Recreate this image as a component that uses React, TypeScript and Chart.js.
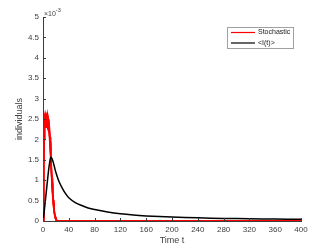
import React, { useEffect, useRef } from "react";
import { Chart, registerables } from "chart.js";

Chart.register(...registerables);

// values in units of 1e-3 individuals
const SCALE = 1e-3;
const stochTimes = [0, 1, 2, 3, 4, 5, 6, 7, 8, 9, 10, 11, 12, 13, 14, 15, 16, 17, 18, 19, 20, 21, 22, 24, 400];
const stochRun1 = [0, 1.4, 2.3, 2.5, 2.6, 2.45, 2.58, 2.4, 2.5, 2.35, 2.2, 1.95, 1.6, 1.25, 0.95, 0.68, 0.46, 0.3, 0.18, 0.1, 0.05, 0.02, 0.01, 0, 0];
const stochRun2 = [0, 1.8, 2.55, 2.62, 2.5, 2.64, 2.45, 2.6, 2.48, 2.42, 2.3, 2.05, 1.7, 1.35, 1.05, 0.76, 0.52, 0.34, 0.2, 0.11, 0.06, 0.03, 0.01, 0, 0];
const stochRun3 = [0, 1.1, 2.0, 2.35, 2.45, 2.3, 2.42, 2.3, 2.38, 2.2, 2.05, 1.8, 1.5, 1.15, 0.85, 0.6, 0.4, 0.25, 0.14, 0.07, 0.03, 0.01, 0, 0, 0];
const stochRun4 = [0, 1.6, 2.4, 2.55, 2.48, 2.58, 2.5, 2.36, 2.45, 2.32, 2.15, 1.9, 1.58, 1.22, 0.92, 0.65, 0.44, 0.28, 0.16, 0.08, 0.04, 0.02, 0, 0, 0];
const meanTimes = [0, 2, 4, 6, 8, 10, 12, 14, 16, 18, 20, 25, 30, 35, 40, 50, 60, 70, 80, 100, 120, 140, 160, 200, 240, 280, 320, 360, 400];
const meanValues = [0, 0.25, 0.55, 0.85, 1.15, 1.4, 1.56, 1.53, 1.43, 1.31, 1.19, 0.96, 0.8, 0.67, 0.57, 0.45, 0.38, 0.32, 0.28, 0.22, 0.175, 0.145, 0.125, 0.095, 0.077, 0.064, 0.054, 0.047, 0.041];
const xTicks = [0, 40, 80, 120, 160, 200, 240, 280, 320, 360, 400];
const yTicks = [0, 0.5, 1, 1.5, 2, 2.5, 3, 3.5, 4, 4.5, 5];
const legendLabels = ["Stochastic", "<I(t)>"];
const seriesColors = ["#ff0000", "#000000"];

const FONT = "'Liberation Sans', Arial, Helvetica, sans-serif";
const TEXT = "#404040";
const AXIS = "#3c3c3c";

const toPoints = (xs: number[], ys: number[]) => xs.map((x, i) => ({ x, y: ys[i] * SCALE }));

const overlay = {
  id: "matlabOverlay",
  afterDraw(chart: any) {
    const { ctx, chartArea: a, scales } = chart;
    const xs = scales.x, ys = scales.y;
    ctx.save();
    // inward ticks
    ctx.strokeStyle = AXIS;
    ctx.lineWidth = 1;
    ctx.beginPath();
    xTicks.forEach((t) => {
      const px = Math.round(xs.getPixelForValue(t)) + 0.5;
      ctx.moveTo(px, a.bottom);
      ctx.lineTo(px, a.bottom - 3);
    });
    yTicks.forEach((t) => {
      const py = Math.round(ys.getPixelForValue(t * SCALE)) + 0.5;
      ctx.moveTo(a.left, py);
      ctx.lineTo(a.left + 3, py);
    });
    ctx.stroke();
    // exponent
    ctx.fillStyle = TEXT;
    ctx.textAlign = "left";
    ctx.textBaseline = "alphabetic";
    ctx.font = `7px ${FONT}`;
    ctx.fillText("\u00d710", a.left + 1, a.top - 1);
    const w = ctx.measureText("\u00d710").width;
    ctx.font = `5.5px ${FONT}`;
    ctx.fillText("-3", a.left + 1 + w, a.top - 5);
    // axis titles
    ctx.font = `9px ${FONT}`;
    ctx.textAlign = "center";
    ctx.textBaseline = "middle";
    ctx.fillText("Time t", (a.left + a.right) / 2, 241);
    ctx.save();
    ctx.translate(20, (a.top + a.bottom) / 2);
    ctx.rotate(-Math.PI / 2);
    ctx.fillText("individuals", 0, 0);
    ctx.restore();
    // legend
    const lx = 227, ly = 27, lw = 66, lh = 21;
    ctx.fillStyle = "#ffffff";
    ctx.fillRect(lx, ly, lw, lh);
    ctx.strokeStyle = "#a0a0a0";
    ctx.lineWidth = 1;
    ctx.strokeRect(lx + 0.5, ly + 0.5, lw, lh);
    ctx.font = `7px ${FONT}`;
    ctx.textAlign = "left";
    ctx.textBaseline = "middle";
    legendLabels.forEach((lab, i) => {
      const y = ly + 5.5 + i * 10.5;
      ctx.strokeStyle = seriesColors[i];
      ctx.lineWidth = 1.2;
      ctx.beginPath();
      ctx.moveTo(lx + 4, y);
      ctx.lineTo(lx + 28, y);
      ctx.stroke();
      ctx.fillStyle = "#202020";
      ctx.fillText(lab, lx + 31, y);
    });
    ctx.restore();
  },
};

export default function App() {
  const ref = useRef<HTMLCanvasElement>(null);
  useEffect(() => {
    document.body.style.margin = "0";
    const runs = [stochRun1, stochRun2, stochRun3, stochRun4];
    const datasets: any[] = runs.map((r) => ({
      data: toPoints(stochTimes, r),
      borderColor: seriesColors[0],
      borderWidth: 1.5,
      pointRadius: 0,
      tension: 0,
      fill: false,
      order: 1,
    }));
    datasets.push({
      data: toPoints(meanTimes, meanValues),
      borderColor: seriesColors[1],
      borderWidth: 1.5,
      pointRadius: 0,
      tension: 0.3,
      fill: false,
      order: 0,
    });
    const chart = new Chart(ref.current!, {
      type: "line",
      data: { datasets },
      options: {
        animation: false,
        responsive: false,
        layout: { padding: { left: 0, right: 31, top: 17, bottom: 0 } },
        plugins: { legend: { display: false }, tooltip: { enabled: false } },
        scales: {
          x: {
            type: "linear",
            min: 0,
            max: 400,
            afterFit: (s: any) => { s.height = 28; },
            afterBuildTicks: (s: any) => { s.ticks = xTicks.map((v) => ({ value: v })); },
            grid: { display: false, drawTicks: false },
            border: { display: true, color: AXIS, width: 1 },
            ticks: { color: TEXT, font: { size: 8, family: FONT }, padding: 4, maxRotation: 0, autoSkip: false },
          },
          y: {
            type: "linear",
            min: 0,
            max: 5 * SCALE,
            afterFit: (s: any) => { s.width = 43; },
            afterBuildTicks: (s: any) => { s.ticks = yTicks.map((v) => ({ value: v * SCALE })); },
            grid: { display: false, drawTicks: false },
            border: { display: true, color: AXIS, width: 1 },
            ticks: {
              color: TEXT,
              font: { size: 8, family: FONT },
              padding: 4,
              autoSkip: false,
              callback: (v: any) => String(Math.round((Number(v) / SCALE) * 10) / 10),
            },
          },
        },
      },
      plugins: [overlay],
    });
    return () => chart.destroy();
  }, []);
  return (
    <div style={{ width: 332, height: 249, background: "#fff" }}>
      <canvas ref={ref} width={332} height={249} style={{ display: "block" }} />
    </div>
  );
}
